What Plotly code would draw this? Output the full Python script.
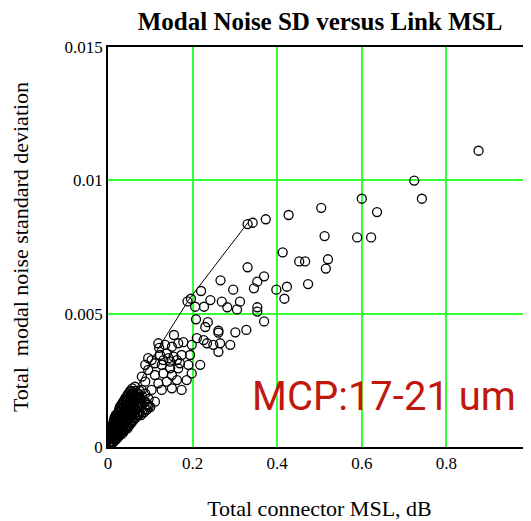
import plotly.graph_objects as go

# Sparse / open-circle points (Total connector MSL dB, modal noise SD)
x_sparse = [0.876, 0.724, 0.742, 0.600, 0.636, 0.504, 0.427, 0.512, 0.589, 0.622,
            0.413, 0.452, 0.466, 0.520, 0.515, 0.473, 0.423, 0.417,
            0.330, 0.342, 0.373, 0.330, 0.266, 0.369, 0.353, 0.345, 0.296, 0.220,
            0.398, 0.188, 0.196, 0.242, 0.269, 0.312, 0.206, 0.227, 0.282, 0.305,
            0.353, 0.353, 0.369, 0.208, 0.236, 0.230, 0.261, 0.261, 0.301, 0.327,
            0.156, 0.178, 0.210, 0.234, 0.265, 0.289, 0.121,
            0.198, 0.226, 0.249, 0.261, 0.139, 0.155, 0.174, 0.194, 0.131, 0.147,
            0.170, 0.218, 0.190,
            0.095, 0.111, 0.095, 0.111, 0.131, 0.151, 0.163, 0.139, 0.119, 0.088,
            0.080, 0.103, 0.127, 0.151, 0.174, 0.186, 0.198, 0.111, 0.095, 0.072,
            0.056, 0.064, 0.080, 0.088, 0.103, 0.123, 0.143, 0.163, 0.166, 0.147,
            0.127, 0.119, 0.135, 0.151, 0.166]
y_sparse = [0.01111, 0.00999, 0.00931, 0.00931, 0.00881, 0.00897, 0.00870, 0.00791, 0.00786, 0.00786,
            0.00730, 0.00696, 0.00696, 0.00704, 0.00669, 0.00611, 0.00601, 0.00556,
            0.00836, 0.00841, 0.00854, 0.00674, 0.00625, 0.00640, 0.00620, 0.00595, 0.00590, 0.00585,
            0.00590, 0.00546, 0.00556, 0.00551, 0.00545, 0.00545, 0.00526, 0.00526, 0.00524, 0.00516,
            0.00524, 0.00508, 0.00471, 0.00479, 0.00468, 0.00450, 0.00436, 0.00429, 0.00430, 0.00439,
            0.00420, 0.00393, 0.00408, 0.00389, 0.00389, 0.00383, 0.00372,
            0.00383, 0.00401, 0.00383, 0.00357, 0.00351, 0.00339, 0.00345, 0.00345, 0.00326, 0.00320,
            0.00314, 0.00308, 0.00308,
            0.00333, 0.00314, 0.00289, 0.00270, 0.00276, 0.00270, 0.00251, 0.00245, 0.00239, 0.00245,
            0.00214, 0.00214, 0.00214, 0.00220, 0.00214, 0.00251, 0.00276, 0.00170, 0.00158, 0.00183,
            0.00201, 0.00226, 0.00264, 0.00308, 0.00326, 0.00345, 0.00333, 0.00326, 0.00295, 0.00295,
            0.00308, 0.00389, 0.00383, 0.00376, 0.00389]

# Dense cluster near the origin (read column by column)
x_dense = [0.002, 0.002, 0.002,
           0.005, 0.005, 0.005, 0.005,
           0.008, 0.008, 0.008, 0.008,
           0.011, 0.011, 0.011, 0.011,
           0.014, 0.014, 0.014, 0.014, 0.014,
           0.017, 0.017, 0.017, 0.017, 0.017,
           0.020, 0.020, 0.020, 0.020, 0.020,
           0.023, 0.023, 0.023, 0.023, 0.023,
           0.026, 0.026, 0.026, 0.026, 0.026, 0.026,
           0.030, 0.030, 0.030, 0.030, 0.030, 0.030,
           0.034, 0.034, 0.034, 0.034, 0.034, 0.034,
           0.038, 0.038, 0.038, 0.038, 0.038, 0.038,
           0.042, 0.042, 0.042, 0.042, 0.042, 0.042,
           0.046, 0.046, 0.046, 0.046, 0.046, 0.046,
           0.050, 0.050, 0.050, 0.050, 0.050, 0.050,
           0.055, 0.055, 0.055, 0.055, 0.055, 0.055,
           0.060, 0.060, 0.060, 0.060, 0.060,
           0.066, 0.066, 0.066, 0.066,
           0.072, 0.072, 0.072, 0.072,
           0.078, 0.078, 0.078,
           0.085, 0.085,
           0.092, 0.092,
           0.100,
           0.0035, 0.0035, 0.0035,
           0.0065, 0.0065, 0.0065,
           0.0095, 0.0095, 0.0095, 0.0095,
           0.0125, 0.0125, 0.0125, 0.0125,
           0.0155, 0.0155, 0.0155, 0.0155, 0.0155,
           0.0185, 0.0185, 0.0185, 0.0185, 0.0185,
           0.0215, 0.0215, 0.0215, 0.0215, 0.0215,
           0.0245, 0.0245, 0.0245, 0.0245, 0.0245,
           0.028, 0.028, 0.028, 0.028, 0.028, 0.028,
           0.032, 0.032, 0.032, 0.032, 0.032, 0.032,
           0.036, 0.036, 0.036, 0.036, 0.036, 0.036,
           0.040, 0.040, 0.040, 0.040, 0.040, 0.040,
           0.044, 0.044, 0.044, 0.044, 0.044, 0.044,
           0.048, 0.048, 0.048, 0.048, 0.048, 0.048,
           0.0525, 0.0525, 0.0525, 0.0525, 0.0525, 0.0525,
           0.0575, 0.0575, 0.0575, 0.0575, 0.0575, 0.0575,
           0.063, 0.063, 0.063, 0.063, 0.063,
           0.069, 0.069, 0.069, 0.069,
           0.075, 0.075, 0.075, 0.075,
           0.081, 0.081, 0.081,
           0.088, 0.088, 0.088,
           0.096, 0.096]
y_dense = [0.0001, 0.0003, 0.0005,
           0.0001, 0.0003, 0.0005, 0.0007,
           0.0001, 0.0003, 0.0005, 0.0007,
           0.0002, 0.0004, 0.0006, 0.0008,
           0.0002, 0.0004, 0.0006, 0.0008, 0.0010,
           0.0003, 0.0005, 0.0007, 0.0009, 0.0011,
           0.0003, 0.0005, 0.0007, 0.0009, 0.0011,
           0.0004, 0.0006, 0.0008, 0.0010, 0.0012,
           0.0004, 0.0006, 0.0008, 0.0010, 0.0012, 0.0014,
           0.0005, 0.0007, 0.0009, 0.0011, 0.0013, 0.0015,
           0.0005, 0.0008, 0.0010, 0.0012, 0.0014, 0.0016,
           0.0006, 0.0008, 0.0011, 0.0013, 0.0015, 0.0017,
           0.0007, 0.0009, 0.0012, 0.0014, 0.0016, 0.0018,
           0.0007, 0.0010, 0.0012, 0.0015, 0.0017, 0.0019,
           0.0008, 0.0011, 0.0013, 0.0016, 0.0018, 0.0020,
           0.0009, 0.0012, 0.0014, 0.0017, 0.0019, 0.0021,
           0.0010, 0.0013, 0.0015, 0.0018, 0.0020,
           0.0011, 0.0014, 0.0016, 0.0019,
           0.0012, 0.0015, 0.0017, 0.0020,
           0.0012, 0.0016, 0.0018,
           0.0013, 0.0017,
           0.0014, 0.0016,
           0.0015,
           0.0002, 0.0004, 0.0006,
           0.0002, 0.0004, 0.0006,
           0.0002, 0.0004, 0.0006, 0.0008,
           0.0003, 0.0005, 0.0007, 0.0009,
           0.0003, 0.0005, 0.0007, 0.0009, 0.0011,
           0.0004, 0.0006, 0.0008, 0.0010, 0.0012,
           0.0004, 0.0006, 0.0008, 0.0010, 0.0012,
           0.0005, 0.0007, 0.0009, 0.0011, 0.0013,
           0.0005, 0.0007, 0.0009, 0.0011, 0.0013, 0.0015,
           0.0006, 0.0008, 0.0010, 0.0012, 0.0014, 0.0016,
           0.0006, 0.0009, 0.0011, 0.0013, 0.0015, 0.0017,
           0.0007, 0.0010, 0.0012, 0.0014, 0.0016, 0.0018,
           0.0008, 0.0010, 0.0013, 0.0015, 0.0017, 0.0019,
           0.0008, 0.0011, 0.0014, 0.0016, 0.0018, 0.0020,
           0.0009, 0.0012, 0.0015, 0.0017, 0.0019, 0.0021,
           0.0010, 0.0013, 0.0016, 0.0018, 0.0020, 0.0022,
           0.0011, 0.0014, 0.0017, 0.0019, 0.0021,
           0.0012, 0.0015, 0.0018, 0.0020,
           0.0013, 0.0016, 0.0018, 0.0021,
           0.0013, 0.0016, 0.0019,
           0.0014, 0.0017, 0.0020,
           0.0015, 0.0018]

# Upper envelope line
env_x = [0.0, 0.05, 0.115, 0.19, 0.33]
env_y = [0.0, 0.0017, 0.0036, 0.0055, 0.0084]

x_ticks = [0, 0.2, 0.4, 0.6, 0.8]
x_tick_text = ["0", "0.2", "0.4", "0.6", "0.8"]
y_ticks = [0, 0.005, 0.01, 0.015]
y_tick_text = ["0", "0.005", "0.01", "0.015"]

serif = "Liberation Serif, Times New Roman, serif"

fig = go.Figure()
fig.add_trace(go.Scatter(
    x=x_dense + x_sparse, y=y_dense + y_sparse, mode="markers",
    marker=dict(symbol="circle-open", size=9, color="black", line=dict(width=1.3, color="black")),
    showlegend=False, hoverinfo="skip"))
fig.add_trace(go.Scatter(
    x=env_x, y=env_y, mode="lines", line=dict(color="black", width=1),
    showlegend=False, hoverinfo="skip"))

fig.add_annotation(
    x=0.336, y=0.0019, xref="x", yref="y", xanchor="left", yanchor="middle",
    text="MCP:17-21 um", showarrow=False,
    font=dict(family="Roboto, sans-serif", size=40, color="#C0180C"))

axis_common = dict(showgrid=True, gridcolor="#33FF33", gridwidth=1.5, zeroline=False,
                   showline=True, linecolor="black", linewidth=1.5, mirror=True,
                   ticks="", tickfont=dict(family=serif, size=17, color="black"))

fig.update_layout(
    width=523, height=513,
    margin=dict(l=100, r=0, t=39, b=74),
    paper_bgcolor="white", plot_bgcolor="white",
    title=dict(text="<b>Modal Noise SD versus Link MSL</b>", x=0.5966, xanchor="center",
               y=0.975, yanchor="middle",
               font=dict(family=serif, size=25, color="black")),
    xaxis=dict(range=[0, 1], tickvals=x_ticks, ticktext=x_tick_text, automargin=False,
               title=dict(text="Total connector MSL, dB", font=dict(family=serif, size=22, color="black"), standoff=44),
               **axis_common),
    yaxis=dict(range=[0, 0.015], tickvals=y_ticks, ticktext=y_tick_text, automargin=False,
               title=dict(text="Total  modal noise standard deviation", font=dict(family=serif, size=22, color="black"), standoff=37),
               **axis_common),
)

fig.write_html("out.html")
